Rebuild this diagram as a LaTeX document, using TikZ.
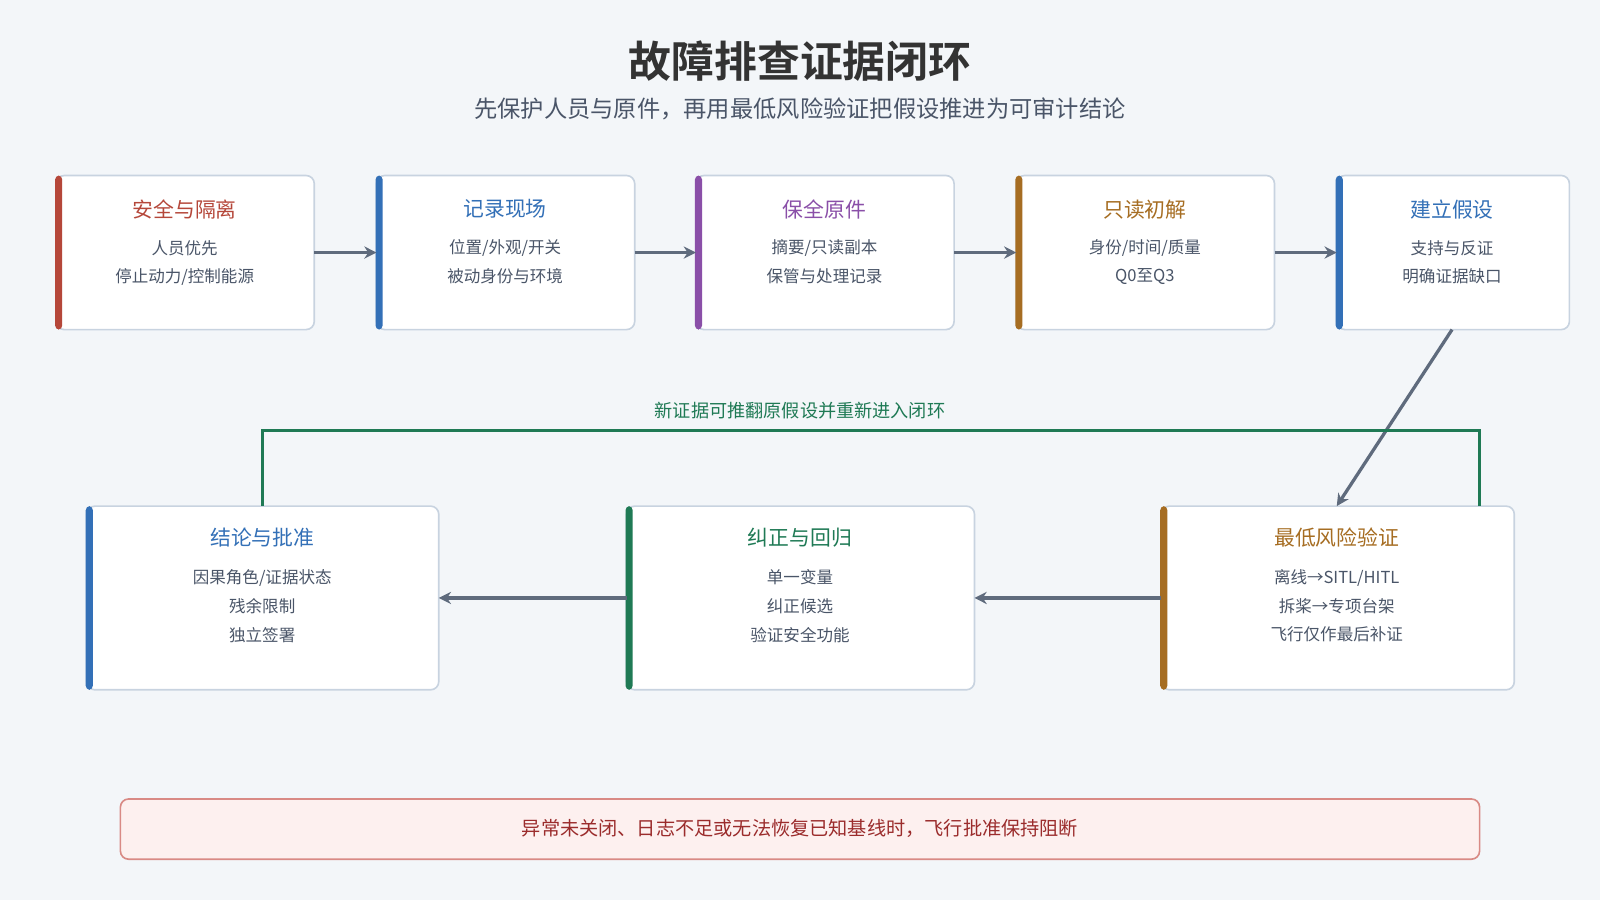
\documentclass[tikz,border=0pt]{standalone}
\usepackage{fontspec}
\setmainfont{Noto Sans CJK SC}
\newfontfamily\cjkb{Noto Sans CJK SC}[BoldFont={* Bold}]
\usetikzlibrary{arrows.meta}
\definecolor{bg}{HTML}{F3F6F9}
\definecolor{cred}{HTML}{B5473A}
\definecolor{cblue}{HTML}{3370B7}
\definecolor{cpur}{HTML}{8A4FA8}
\definecolor{cbrn}{HTML}{A66D22}
\definecolor{cgrn}{HTML}{1F7A55}
\definecolor{txt}{HTML}{4A5568}
\definecolor{arr}{HTML}{5F6B7D}
\definecolor{bord}{HTML}{C8D3E0}
\definecolor{pinkf}{HTML}{FDF0EF}
\definecolor{pinkd}{HTML}{D98A85}
\definecolor{dred}{HTML}{9B2C2C}
\begin{document}
\begin{tikzpicture}[x=0.5pt,y=-0.5pt,
 box/.style={draw=bord,line width=0.8pt,fill=white,rounded corners=4pt},
 ttl/.style={font=\fontsize{10.2}{12}\selectfont},
 bdy/.style={text=txt,font=\fontsize{8.1}{10}\selectfont},
 con/.style={draw=arr,line width=1.6pt,-{Stealth[length=6pt,width=6pt]}}]
\fill[bg] (0,0) rectangle (1568,882);
\useasboundingbox (0,0) rectangle (1568,882);
\node[font=\cjkb\bfseries\fontsize{21}{24}\selectfont,text=black!80] (title) at (784,60) {故障排查证据闭环};
\node[font=\fontsize{11.4}{13}\selectfont,text=txt] (sub) at (784,107) {先保护人员与原件，再用最低风险验证把假设推进为可审计结论};
\newcommand{\mybox}[6]{%
 \draw[box] (#2,#3) rectangle (#4,#5);
 \fill[#6,rounded corners=2pt] (#2-1,#3) rectangle (#2+6,#5);
 \coordinate (#1) at ({(#2+#4)/2},{(#3+#5)/2});
 \coordinate (#1-w) at (#2,{(#3+#5)/2});
 \coordinate (#1-e) at (#4,{(#3+#5)/2});}
\mybox{b1}{55}{172}{308}{323}{cred}
\mybox{b2}{369}{172}{622}{323}{cblue}
\mybox{b3}{682}{172}{935}{323}{cpur}
\mybox{b4}{996}{172}{1249}{323}{cbrn}
\mybox{b5}{1310}{172}{1538}{323}{cblue}
\mybox{c1}{85}{496}{430}{676}{cblue}
\mybox{c2}{614}{496}{955}{676}{cgrn}
\mybox{c3}{1138}{496}{1484}{676}{cbrn}
\node[ttl,text=cred] (t1) at (181,205) {安全与隔离};
\node[bdy] (l1a) at (181,243) {人员优先};
\node[bdy] (l1b) at (181,271) {停止动力/控制能源};
\node[ttl,text=cblue] (t2) at (495,205) {记录现场};
\node[bdy] (l2a) at (495,243) {位置/外观/开关};
\node[bdy] (l2b) at (495,271) {被动身份与环境};
\node[ttl,text=cpur] (t3) at (808,205) {保全原件};
\node[bdy] (l3a) at (808,243) {摘要/只读副本};
\node[bdy] (l3b) at (808,271) {保管与处理记录};
\node[ttl,text=cbrn] (t4) at (1122,205) {只读初解};
\node[bdy] (l4a) at (1122,243) {身份/时间/质量};
\node[bdy] (l4b) at (1122,271) {Q0至Q3};
\node[ttl,text=cblue] (t5) at (1423,205) {建立假设};
\node[bdy] (l5a) at (1423,243) {支持与反证};
\node[bdy] (l5b) at (1423,271) {明确证据缺口};
\node[ttl,text=cblue] (u1) at (257,527) {结论与批准};
\node[bdy] (m1a) at (257,566) {因果角色/证据状态};
\node[bdy] (m1b) at (257,594) {残余限制};
\node[bdy] (m1c) at (257,622) {独立签署};
\node[ttl,text=cgrn] (u2) at (784,527) {纠正与回归};
\node[bdy] (m2a) at (784,566) {单一变量};
\node[bdy] (m2b) at (784,594) {纠正候选};
\node[bdy] (m2c) at (784,622) {验证安全功能};
\node[ttl,text=cbrn] (u3) at (1310,527) {最低风险验证};
\node[bdy] (m3a) at (1310,566) {离线→SITL/HITL};
\node[bdy] (m3b) at (1310,594) {拆桨→专项台架};
\node[bdy] (m3c) at (1310,622) {飞行仅作最后补证};
\draw[con] (b1-e) -- (b2-w);
\draw[con] (b2-e) -- (b3-w);
\draw[con] (b3-e) -- (b4-w);
\draw[con] (b4-e) -- (b5-w);
\coordinate (d1) at (1423,323);
\coordinate (d2) at (1310,496);
\draw[con] (d1) -- (d2);
\draw[con] (c3-w) -- (c2-e);
\draw[con] (c2-w) -- (c1-e);
\coordinate (g1) at (1450,496);
\coordinate (g2) at (257,496);
\draw[cgrn,line width=1.6pt] (g1) -- (1450,422) -- (257,422) -- (g2);
\node[text=cgrn,font=\fontsize{8.9}{10}\selectfont] (gl) at (784,402) {新证据可推翻原假设并重新进入闭环};
\draw[fill=pinkf,draw=pinkd,line width=0.8pt,rounded corners=4pt] (118,783) rectangle (1450,842);
\node[text=dred,font=\fontsize{9.4}{11}\selectfont] (warn) at (784,812) {异常未关闭、日志不足或无法恢复已知基线时，飞行批准保持阻断};
\end{tikzpicture}
\end{document}
